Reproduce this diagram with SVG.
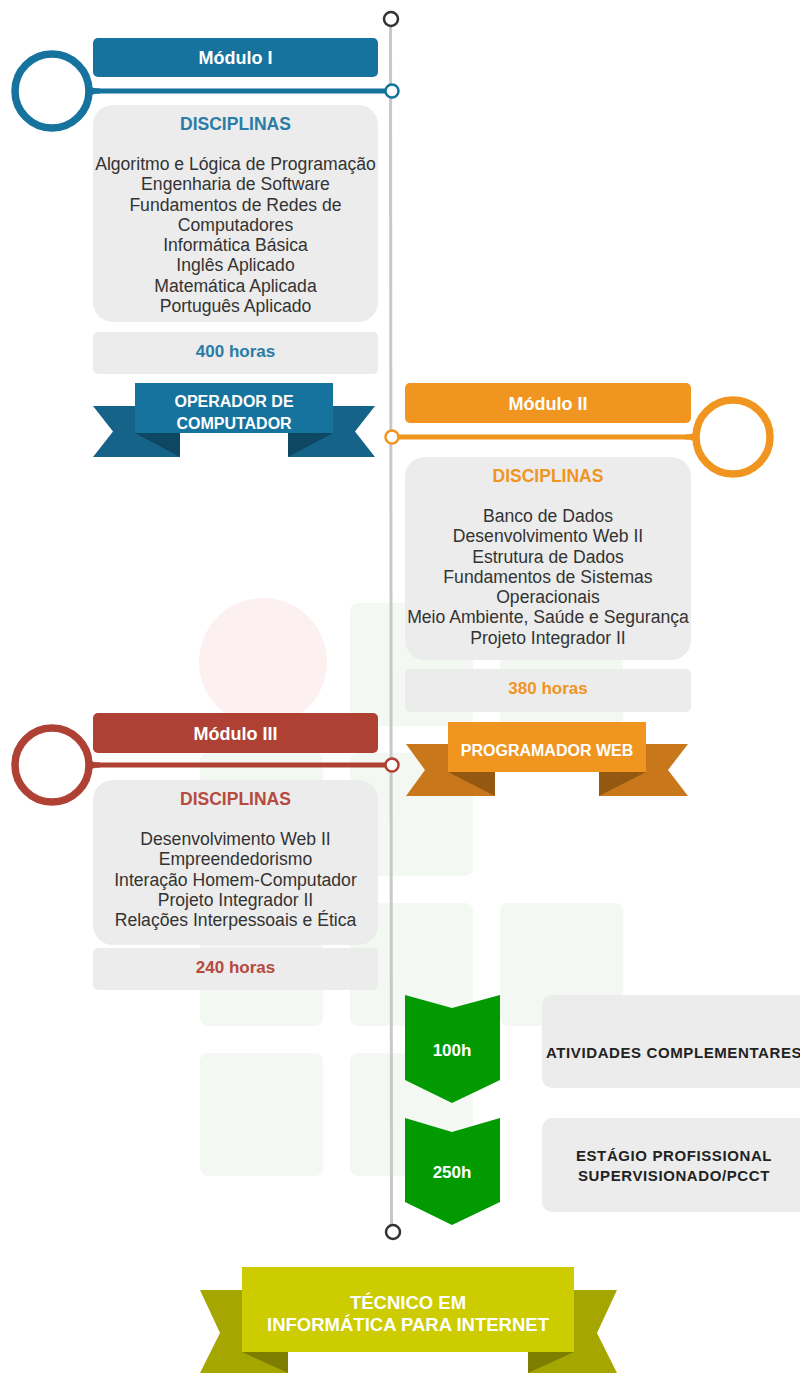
<svg xmlns="http://www.w3.org/2000/svg" width="800" height="1373" viewBox="0 0 800 1373">
<style>
text{font-family:"Liberation Sans",Arial,sans-serif}
.hdr{font-size:18px;font-weight:bold;fill:#fff;text-anchor:middle}
.dh{font-size:17.5px;font-weight:bold;text-anchor:middle}
.ds{font-size:17.6px;fill:#333;text-anchor:middle}
.hr{font-size:17px;font-weight:bold;text-anchor:middle}
.rb{font-size:16px;font-weight:bold;fill:#fff;text-anchor:middle}
.card{fill:#ececec}
.wm{fill:#f3f8f3}
.ring{fill:none;stroke-width:7.5}
.dot{fill:#fff;stroke-width:2.5}
.ext{font-size:15px;font-weight:bold;fill:#222;letter-spacing:0.6px}
</style>
<rect width="800" height="1373" fill="#fff"/>
<g id="watermark">
<circle cx="263" cy="662" r="64" fill="#fcf0f0"/>
<rect class="wm" x="350" y="603" width="123" height="123" rx="8"/>
<rect class="wm" x="500" y="603" width="123" height="123" rx="8"/>
<rect class="wm" x="200" y="753" width="123" height="123" rx="8"/>
<rect class="wm" x="350" y="753" width="123" height="123" rx="8"/>
<rect class="wm" x="200" y="903" width="123" height="123" rx="8"/>
<rect class="wm" x="350" y="903" width="123" height="123" rx="8"/>
<rect class="wm" x="500" y="903" width="123" height="123" rx="8"/>
<rect class="wm" x="200" y="1053" width="123" height="123" rx="8"/>
<rect class="wm" x="350" y="1053" width="123" height="123" rx="8"/>
</g>
<g id="connectors">
<line x1="390.5" y1="19" x2="391.5" y2="1232" stroke="#c8c8c8" stroke-width="3"/>
<line x1="88" y1="91" x2="391" y2="91" stroke="#15739d" stroke-width="5"/>
<path d="M86,83 Q90,88.5 100,88.5 L100,93.5 Q90,93.5 86,99 Z" fill="#15739d"/>
<line x1="392" y1="437" x2="697" y2="437" stroke="#f0951f" stroke-width="5"/>
<path d="M699,429 Q695,434.5 685,434.5 L685,439.5 Q695,439.5 699,445 Z" fill="#f0951f"/>
<line x1="88" y1="765" x2="391" y2="765" stroke="#ae4134" stroke-width="5"/>
<path d="M86,757 Q90,762.5 100,762.5 L100,767.5 Q90,767.5 86,773 Z" fill="#ae4134"/>
</g>
<g id="timeline-start"><circle cx="391" cy="19" r="7" fill="#fff" stroke="#333" stroke-width="2.5"/></g>
<g id="timeline-end"><circle cx="393" cy="1232" r="7" fill="#fff" stroke="#333" stroke-width="2.5"/></g>
<g id="modulo1">
<circle class="ring" cx="52" cy="91" r="37" stroke="#15739d"/>
<circle class="dot" cx="392" cy="91" r="6.5" stroke="#15739d"/>
<rect x="93" y="38" width="285" height="39" rx="5" fill="#15739d"/>
<text class="hdr" x="235.5" y="64">Módulo I</text>
<rect class="card" x="93" y="105" width="285" height="217" rx="20"/>
<text class="dh" x="235.5" y="130" fill="#2a7ca6">DISCIPLINAS</text>
<text class="ds" x="235.5" y="170">Algoritmo e Lógica de Programação</text>
<text class="ds" x="235.5" y="190.3">Engenharia de Software</text>
<text class="ds" x="235.5" y="210.5">Fundamentos de Redes de</text>
<text class="ds" x="235.5" y="230.8">Computadores</text>
<text class="ds" x="235.5" y="251">Informática Básica</text>
<text class="ds" x="235.5" y="271.3">Inglês Aplicado</text>
<text class="ds" x="235.5" y="291.5">Matemática Aplicada</text>
<text class="ds" x="235.5" y="311.8">Português Aplicado</text>
<rect class="card" x="93" y="332" width="285" height="42" rx="5"/>
<text class="hr" x="235.5" y="357" fill="#2a7ca6">400 horas</text>
</g>
<g id="ribbon1">
<polygon points="93,406 180,406 180,457 93,457 113,431.5" fill="#16638a"/>
<polygon points="288,406 375,406 355,431.5 375,457 288,457" fill="#16638a"/>
<polygon points="135,433 180,433 180,457" fill="#0e4762"/>
<polygon points="288,433 333,433 288,457" fill="#0e4762"/>
<rect x="135" y="383" width="198" height="50" fill="#15739d"/>
<text class="rb" x="234" y="407">OPERADOR DE</text>
<text class="rb" x="234" y="429">COMPUTADOR</text>
</g>
<g id="modulo2">
<circle class="ring" cx="733" cy="437" r="37" stroke="#f0951f"/>
<circle class="dot" cx="392" cy="437" r="6.5" stroke="#f0951f"/>
<rect x="405" y="383" width="286" height="40" rx="5" fill="#f0951f"/>
<text class="hdr" x="548" y="410">Módulo II</text>
<rect class="card" x="405" y="457" width="286" height="203" rx="20"/>
<text class="dh" x="548" y="482" fill="#f0951f">DISCIPLINAS</text>
<text class="ds" x="548" y="522">Banco de Dados</text>
<text class="ds" x="548" y="542.3">Desenvolvimento Web II</text>
<text class="ds" x="548" y="562.5">Estrutura de Dados</text>
<text class="ds" x="548" y="582.8">Fundamentos de Sistemas</text>
<text class="ds" x="548" y="603">Operacionais</text>
<text class="ds" x="548" y="623.3">Meio Ambiente, Saúde e Segurança</text>
<text class="ds" x="548" y="643.5">Projeto Integrador II</text>
<rect class="card" x="405" y="669" width="286" height="43" rx="5"/>
<text class="hr" x="548" y="694" fill="#f0951f">380 horas</text>
</g>
<g id="ribbon2">
<polygon points="406,744 495,744 495,796 406,796 425,770" fill="#c8771a"/>
<polygon points="599,744 688,744 668,770 688,796 599,796" fill="#c8771a"/>
<polygon points="448,772 495,772 495,796" fill="#955812"/>
<polygon points="599,772 646,772 599,796" fill="#955812"/>
<rect x="448" y="722" width="198" height="50" fill="#f0951f"/>
<text class="rb" x="547" y="756">PROGRAMADOR WEB</text>
</g>
<g id="modulo3">
<circle class="ring" cx="52" cy="765" r="37" stroke="#ae4134"/>
<circle class="dot" cx="392" cy="765" r="6.5" stroke="#ae4134"/>
<rect x="93" y="713" width="285" height="40" rx="5" fill="#ae4134"/>
<text class="hdr" x="235.5" y="740">Módulo III</text>
<rect class="card" x="93" y="780" width="285" height="165" rx="20"/>
<text class="dh" x="235.5" y="805" fill="#b54a3e">DISCIPLINAS</text>
<text class="ds" x="235.5" y="845">Desenvolvimento Web II</text>
<text class="ds" x="235.5" y="865.3">Empreendedorismo</text>
<text class="ds" x="235.5" y="885.5">Interação Homem-Computador</text>
<text class="ds" x="235.5" y="905.8">Projeto Integrador II</text>
<text class="ds" x="235.5" y="926">Relações Interpessoais e Ética</text>
<rect class="card" x="93" y="948" width="285" height="42" rx="5"/>
<text class="hr" x="235.5" y="973" fill="#b54a3e">240 horas</text>
</g>
<g id="atividades">
<path d="M405,995 L452,1008 L500,995 L500,1080 L452,1103 L405,1080 Z" fill="#019a01"/>
<text class="hr" x="452" y="1056" fill="#fff">100h</text>
<rect class="card" x="542" y="995" width="280" height="93" rx="10"/>
<text class="ext" x="546" y="1058">ATIVIDADES COMPLEMENTARES</text>
</g>
<g id="estagio">
<path d="M405,1118 L452,1132 L500,1118 L500,1202 L452,1225 L405,1202 Z" fill="#019a01"/>
<text class="hr" x="452" y="1178" fill="#fff">250h</text>
<rect class="card" x="542" y="1118" width="280" height="94" rx="10"/>
<text class="ext" x="674" y="1161" text-anchor="middle">ESTÁGIO PROFISSIONAL</text>
<text class="ext" x="674" y="1181" text-anchor="middle">SUPERVISIONADO/PCCT</text>
</g>
<g id="ribbon-final">
<polygon points="200,1290 288,1290 288,1373 200,1373 220,1333" fill="#a6a600"/>
<polygon points="528,1290 617,1290 597,1333 617,1373 528,1373" fill="#a6a600"/>
<polygon points="242,1352 288,1352 288,1373" fill="#7d7d00"/>
<polygon points="528,1352 574,1352 528,1373" fill="#7d7d00"/>
<rect x="242" y="1267" width="332" height="85" fill="#cccc00"/>
<text class="rb" x="408" y="1309" style="font-size:18.5px">TÉCNICO EM</text>
<text class="rb" x="408" y="1331" style="font-size:18.5px">INFORMÁTICA PARA INTERNET</text>
</g>
</svg>
